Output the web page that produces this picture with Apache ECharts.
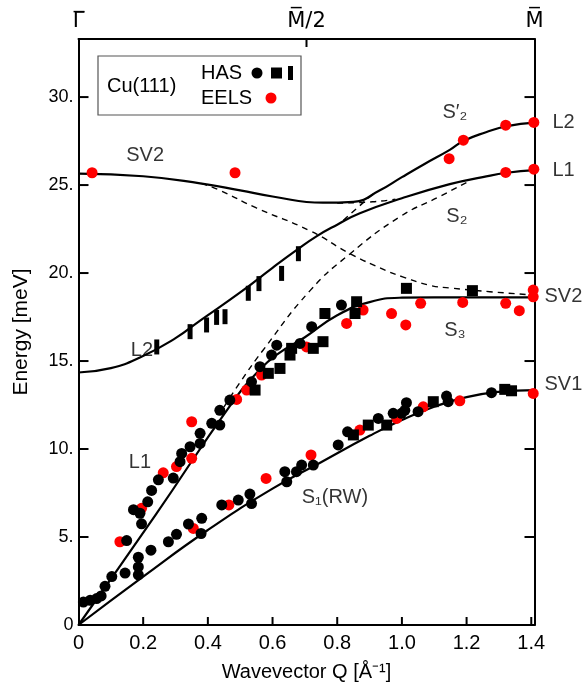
<!DOCTYPE html>
<html>
<head>
<meta charset="utf-8">
<script src="https://cdn.jsdelivr.net/npm/echarts@6/dist/echarts.min.js"></script>
<style>
  html, body { margin: 0; padding: 0; background: #fff; }
  #chart { width: 586px; height: 690px; }
</style>
</head>
<body>
<div id="chart"></div>
<script>
const xMax = 1.41
const yMax = 33.3
const xTickValues = [0.2, 0.4, 0.6, 0.8, 1.0, 1.2, 1.4]
const yTickValues = [5, 10, 15, 20, 25, 30]
const topTicks = { 0: 'Γ\u0305', 0.705: 'M\u0305/2', 1.41: 'M\u0305' }

// fitted dispersion curves
const s1Curve = [[0,0],[0.2,2.75],[0.4,5.4],[0.6,7.75],[0.75,9.25],[0.9,10.75],[1.0,11.65],[1.1,12.4],[1.2,12.95],[1.3,13.25],[1.41,13.35]]
const l1S3Curve = [[0,0],[0.24,6.3],[0.47,12.5],[0.56,14.5],[0.62,15.45],[0.7,16.35],[0.8,17.6],[0.9,18.35],[1.0,18.6],[1.1,18.62],[1.25,18.62],[1.41,18.62]]
const l2Curve = [[0,14.35],[0.1,14.6],[0.19,15.2],[0.3,16.3],[0.376,17.3],[0.5,18.9],[0.6,20.3],[0.674,21.3],[0.737,22.1],[0.8,22.75],[0.87,23.4],[1.0,24.25],[1.148,25.05],[1.25,25.45],[1.325,25.7],[1.41,25.85]]
const sv2Curve = [[0,25.65],[0.2,25.5],[0.376,25.1],[0.5,24.7],[0.6,24.35],[0.756,24.0],[0.85,24.05],[0.932,24.7],[1.0,25.45],[1.07,26.2],[1.148,27.0],[1.19,27.5],[1.26,28.0],[1.325,28.35],[1.41,28.55]]
const l1Dash = [[0.45,12.4],[0.5,13.8],[0.57,15.6],[0.716,19.0],[0.84,21.1],[0.994,23.2],[1.117,24.35],[1.2,25.15]]
const sv2Dash = [[0.38,25.1],[0.437,24.7],[0.55,23.7],[0.716,22.4],[0.84,21.1],[0.95,20.15],[1.0,19.8],[1.087,19.3],[1.15,19.15],[1.272,18.94],[1.41,18.75]]
const l2Dash = [[0.819,23.0],[0.911,24.5]]
const sv2FlatDash = [[0.8,23.98],[0.91,24.05],[0.98,24.2]]

// measured points
const hasCircles = [[0.015,1.3],[0.036,1.4],[0.056,1.5],[0.07,1.65],[0.082,2.2],[0.103,2.75],[0.144,2.95],[0.185,3.85],[0.185,3.3],[0.185,2.85],[0.224,4.25],[0.149,4.8],[0.195,5.75],[0.17,6.55],[0.19,6.35],[0.214,7.0],[0.226,7.65],[0.247,8.25],[0.293,8.35],[0.314,9.28],[0.319,9.75],[0.345,10.13],[0.376,10.32],[0.376,10.89],[0.412,11.46],[0.437,11.36],[0.437,12.2],[0.468,12.78],[0.535,13.82],[0.561,14.68],[0.597,15.34],[0.613,15.9],[0.685,16.0],[0.721,16.95],[0.813,18.18],[0.278,4.73],[0.303,5.15],[0.34,5.74],[0.381,6.06],[0.379,5.2],[0.443,6.82],[0.494,7.1],[0.53,7.44],[0.535,6.9],[0.638,8.71],[0.644,8.14],[0.674,8.71],[0.69,9.09],[0.726,9.09],[0.803,10.23],[0.832,10.98],[0.927,11.74],[0.973,12.03],[0.999,12.03],[1.014,12.63],[1.009,12.2],[1.05,12.12],[1.138,13.01],[1.143,12.69],[1.277,13.2]]
const hasSquares = [[0.546,13.35],[0.587,14.3],[0.623,14.58],[0.654,15.34],[0.659,15.72],[0.726,15.72],[0.756,16.1],[0.762,17.7],[0.855,17.7],[0.86,18.37],[1.014,19.13],[1.218,19.0],[0.85,10.8],[0.896,11.36],[0.953,11.36],[1.097,12.69],[1.318,13.39],[1.339,13.31]]
const hasBars = [[0.242,15.8],[0.345,16.67],[0.396,17.05],[0.427,17.48],[0.453,17.52],[0.525,18.85],[0.558,19.4],[0.628,19.98],[0.68,21.1]]
const eels = [[0.042,25.7],[0.484,25.7],[1.146,26.5],[1.19,27.55],[1.321,28.4],[1.408,28.56],[1.321,25.72],[1.408,25.9],[0.128,4.73],[0.195,6.63],[0.262,8.65],[0.303,9.0],[0.35,9.47],[0.35,11.55],[0.489,12.82],[0.52,13.35],[0.566,14.2],[0.705,15.8],[0.829,17.14],[0.88,17.9],[0.968,17.7],[1.012,17.05],[1.058,18.28],[1.188,18.33],[1.321,18.28],[1.363,17.86],[1.406,19.03],[1.406,18.65],[0.355,5.49],[0.465,6.82],[0.58,8.33],[0.719,9.66],[0.87,11.08],[0.984,11.74],[1.066,12.4],[1.179,12.74],[1.406,13.16]]

// curve names: [x, y, text, placement, gap]
const curveLabels = [
  [0.206, 26.7, 'SV2', 'inside', 0],
  [1.164, 29.1, 'S\u2032\u2082', 'inside', 0],
  [1.17, 23.2, 'S\u2082', 'inside', 0],
  [1.164, 16.75, 'S\u2083', 'inside', 0],
  [0.196, 15.6, 'L2', 'inside', 0],
  [0.19, 9.26, 'L1', 'inside', 0],
  [0.793, 7.27, 'S\u2081(RW)', 'inside', 0],
  [1.41, 28.55, 'L2', 'right', 18],
  [1.41, 25.85, 'L1', 'right', 18],
  [1.41, 18.64, 'SV2', 'right', 10],
  [1.41, 13.64, 'SV1', 'right', 10]
]

const font = 'Liberation Sans, Arial, sans-serif'
const chart = echarts.init(document.getElementById('chart'))

const isStep = (v, s) => Math.abs(v / s - Math.round(v / s)) < 1e-6

const solid = data => ({
  type: 'line', data, smooth: 0.5, symbol: 'none', silent: true,
  lineStyle: { color: '#000', width: 2.2 }, z: 2
})
const dashed = data => ({
  type: 'line', data, smooth: 0.5, symbol: 'none', silent: true,
  lineStyle: { color: '#000', width: 1.4, type: [6, 5] }, z: 2
})
const dots = (data, symbol, size, color) => ({
  type: 'scatter', data, symbol, symbolSize: size,
  itemStyle: { color, opacity: 1 }, z: 3
})

const frameX = (position, extra) => Object.assign({
  type: 'value', min: 0, max: xMax, position,
  axisLine: { onZero: false, lineStyle: { color: '#000', width: 2 } },
  axisTick: { show: false }, splitLine: { show: false }
}, extra)
const frameY = (position, extra) => Object.assign({
  type: 'value', min: 0, max: yMax, interval: 5, position,
  axisLine: { show: true, onZero: false, lineStyle: { color: '#000', width: 2 } },
  axisTick: { show: false }, splitLine: { show: false }
}, extra)

const legendBox = [
  { type: 'rect', shape: { x: 98, y: 56, width: 203, height: 59 },
    style: { fill: '#fff', stroke: '#555', lineWidth: 1.2 }, z: 10 },
  { type: 'text', x: 107, y: 86, z: 11,
    style: { text: 'Cu(111)', font: '20px ' + font, fill: '#000', verticalAlign: 'middle' } },
  { type: 'text', x: 201, y: 73, z: 11,
    style: { text: 'HAS', font: '20px ' + font, fill: '#000', verticalAlign: 'middle' } },
  { type: 'text', x: 201, y: 98, z: 11,
    style: { text: 'EELS', font: '20px ' + font, fill: '#000', verticalAlign: 'middle' } },
  { type: 'circle', shape: { cx: 257, cy: 73, r: 5.5 }, style: { fill: '#000' }, z: 11 },
  { type: 'rect', shape: { x: 271, y: 67.5, width: 11, height: 11 }, style: { fill: '#000' }, z: 11 },
  { type: 'rect', shape: { x: 288, y: 66, width: 5, height: 14 }, style: { fill: '#000' }, z: 11 },
  { type: 'circle', shape: { cx: 271, cy: 98, r: 5.5 }, style: { fill: '#ff0000' }, z: 11 }
]

const option = {
  backgroundColor: '#fff',
  animation: false,
  textStyle: { fontFamily: font },
  grid: { left: 78.5, right: 51.5, top: 39, bottom: 65 },
  xAxis: [
    frameX('bottom', {
      interval: 0.2,
      name: 'Wavevector Q [Å\u207B\u00B9]', nameLocation: 'middle', nameGap: 37,
      nameTextStyle: { fontSize: 20, color: '#000', fontFamily: font },
      axisLabel: {
        fontSize: 20, color: '#000', margin: 8, fontFamily: font,
        formatter: v => v === 0 ? '0' : (isStep(v, 0.2) ? v.toFixed(1) : '')
      }
    }),
    frameX('top', {
      interval: 0.705,
      axisLabel: {
        fontSize: 21, color: '#000', margin: 7, fontFamily: 'DejaVu Sans, sans-serif',
        formatter: v => {
          for (const k in topTicks) if (Math.abs(v - k) < 1e-6) return topTicks[k]
          return ''
        }
      }
    })
  ],
  yAxis: [
    frameY('left', {
      name: 'Energy [meV]', nameLocation: 'middle', nameGap: 47,
      nameTextStyle: { fontSize: 21, color: '#000', fontFamily: font },
      axisLabel: {
        fontSize: 18, color: '#000', margin: 5, fontFamily: font,
        formatter: v => v === 0 ? '0' : (isStep(v, 5) ? v + '.' : '')
      }
    }),
    frameY('right', { axisLabel: { show: false } })
  ],
  series: [
    solid(s1Curve), solid(l1S3Curve), solid(l2Curve), solid(sv2Curve),
    dashed(l1Dash), dashed(sv2Dash), dashed(l2Dash), dashed(sv2FlatDash),
    dots(eels, 'circle', 11, '#ff0000'),
    dots(hasCircles, 'circle', 11, '#000'),
    dots(hasSquares, 'rect', 11, '#000'),
    dots(hasBars, 'rect', [5, 15], '#000'),
    {
      type: 'scatter', symbolSize: 0, silent: true, clip: false, z: 4,
      data: curveLabels.map(d => ({
        value: [d[0], d[1]],
        label: {
          show: true, formatter: d[2], position: d[3], distance: d[4],
          fontSize: 20, color: '#000', fontFamily: font
        }
      }))
    }
  ],
  graphic: legendBox
}
chart.setOption(option)

// inward-pointing frame ticks, placed through the axes' own scales
const px = p => chart.convertToPixel({ xAxisIndex: 0, yAxisIndex: 0 }, p)
const tickLine = (a, b) => ({
  type: 'line', shape: { x1: a[0], y1: a[1], x2: b[0], y2: b[1] },
  style: { stroke: '#000', lineWidth: 2 }, z: 5, silent: true
})
const ticks = []
yTickValues.forEach(v => {
  const l = px([0, v]), r = px([xMax, v])
  ticks.push(tickLine(l, [l[0] + 10, l[1]]))
  ticks.push(tickLine(r, [r[0] - 10, r[1]]))
})
xTickValues.forEach(v => {
  const b = px([v, 0])
  ticks.push(tickLine(b, [b[0], b[1] - 8]))
})
const mid = px([xMax / 2, yMax])
ticks.push(tickLine(mid, [mid[0], mid[1] + 8]))
chart.setOption({ graphic: legendBox.concat(ticks) })
</script>
</body>
</html>
